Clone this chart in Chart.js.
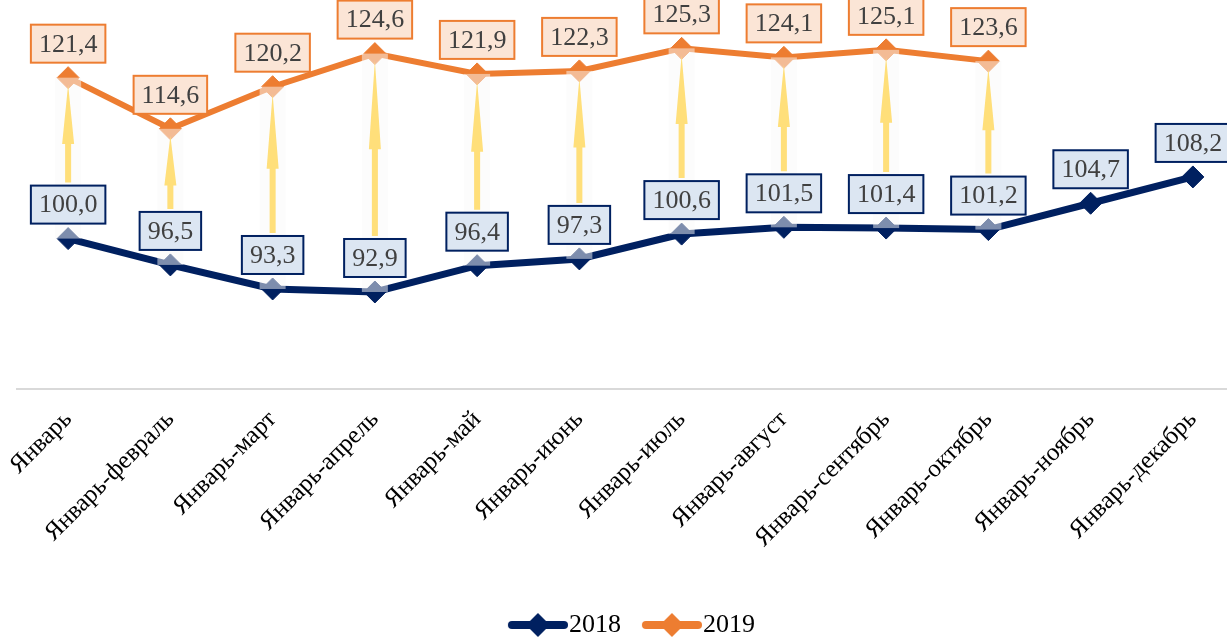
<!DOCTYPE html>
<html lang="ru">
<head>
<meta charset="utf-8">
<script src="https://cdn.jsdelivr.net/npm/chart.js@4"></script>
<style>
  html, body { margin: 0; padding: 0; background: #fff; overflow: hidden; }
  #wrap { width: 1256px; height: 637px; position: relative; }
</style>
</head>
<body>
<div id="wrap"><canvas id="myChart"></canvas></div>
<script>
// chart data
const months = ['Январь', 'Январь-февраль', 'Январь-март', 'Январь-апрель', 'Январь-май', 'Январь-июнь',
  'Январь-июль', 'Январь-август', 'Январь-сентябрь', 'Январь-октябрь', 'Январь-ноябрь', 'Январь-декабрь'];
const values2018 = [100.0, 96.5, 93.3, 92.9, 96.4, 97.3, 100.6, 101.5, 101.4, 101.2, 104.7, 108.2];
const values2019 = [121.4, 114.6, 120.2, 124.6, 121.9, 122.3, 125.3, 124.1, 125.1, 123.6, null, null];
const seriesNames = ['2018', '2019'];

const navy = '#002060';
const orange = '#ed7d31';
const serif = '"Liberation Serif", "Times New Roman", serif';

function fmt(v) {
  return v.toFixed(1).replace('.', ',');
}

// legend sample: line with a diamond, drawn in the right 60px of the image
function legendIcon(color) {
  const c = document.createElement('canvas');
  c.width = 72; c.height = 26;
  const g = c.getContext('2d');
  g.strokeStyle = color; g.lineWidth = 8; g.lineCap = 'round';
  g.beginPath(); g.moveTo(16, 13); g.lineTo(68, 13); g.stroke();
  g.fillStyle = color;
  g.beginPath(); g.moveTo(42, 1); g.lineTo(54, 13); g.lineTo(42, 25); g.lineTo(30, 13); g.closePath(); g.fill();
  return c;
}
const icons = [legendIcon(navy), legendIcon(orange)];

function labelBox(ctx, p, v, fill, stroke) {
  ctx.font = '26px ' + serif;
  const tw = ctx.measureText(fmt(v)).width;
  const w = tw + 16, h = 38;
  const x = p.x - w / 2, y = p.y - 15 - h;
  ctx.fillStyle = fill;
  ctx.fillRect(x, y, w, h);
  ctx.strokeStyle = stroke;
  ctx.lineWidth = 2;
  ctx.strokeRect(x, y, w, h);
  ctx.fillStyle = '#404040';
  ctx.textAlign = 'center';
  ctx.textBaseline = 'middle';
  ctx.fillText(fmt(v), p.x, y + h / 2 + 1);
}

const extras = {
  id: 'extras',
  afterDatasetsDraw(chart) {
    const ctx = chart.ctx;
    const pts18 = chart.getDatasetMeta(0).data;
    const pts19 = chart.getDatasetMeta(1).data;
    ctx.save();
    // up/down bars (very faint)
    ctx.fillStyle = 'rgba(250,250,250,0.5)';
    pts19.forEach((p, i) => {
      if (values2019[i] == null) return;
      ctx.fillRect(p.x - 13, p.y, 26, pts18[i].y - p.y);
    });
    // arrows from the 2018 label up to the 2019 point
    ctx.fillStyle = '#ffdf7a';
    pts19.forEach((p, i) => {
      if (values2019[i] == null) return;
      const y0 = pts18[i].y - 15 - 38 - 3, y1 = p.y + 7;
      const head = 22 + 0.38 * (y0 - y1);
      ctx.beginPath();
      ctx.moveTo(p.x, y1);
      ctx.lineTo(p.x + 6, y1 + head);
      ctx.lineTo(p.x + 3, y1 + head);
      ctx.lineTo(p.x + 3, y0);
      ctx.lineTo(p.x - 3, y0);
      ctx.lineTo(p.x - 3, y1 + head);
      ctx.lineTo(p.x - 6, y1 + head);
      ctx.closePath();
      ctx.fill();
    });
    pts18.forEach((p, i) => labelBox(ctx, p, values2018[i], '#dce6f2', navy));
    pts19.forEach((p, i) => {
      if (values2019[i] != null) labelBox(ctx, p, values2019[i], '#fbe5d6', orange);
    });
    ctx.restore();
  }
};

const data = {
  labels: months,
  datasets: [{
    label: seriesNames[0],
    data: values2018,
    borderColor: navy,
    backgroundColor: navy,
    borderWidth: 7,
    pointStyle: 'rectRot',
    pointRadius: 11,
    pointBackgroundColor: navy,
    pointBorderColor: navy,
    pointBorderWidth: 1,
    tension: 0,
  }, {
    label: seriesNames[1],
    data: values2019,
    borderColor: orange,
    backgroundColor: orange,
    borderWidth: 6,
    pointStyle: 'rectRot',
    pointRadius: 11,
    pointBackgroundColor: orange,
    pointBorderColor: orange,
    pointBorderWidth: 1,
    tension: 0,
  }],
};

const config = {
  type: 'line',
  data: data,
  plugins: [extras],
  options: {
    responsive: true,
    maintainAspectRatio: false,
    animation: false,
    layout: { padding: { left: 17, right: 5, top: 13, bottom: -11 } },
    scales: {
      y: { display: false, min: 80, max: 130 },
      x: {
        offset: true,
        grid: { color: 'transparent', drawTicks: false },
        border: { color: '#d9d9d9', width: 2 },
        afterFit(scale) {
          scale.paddingLeft = 0;
          scale.paddingRight = 0;
          scale.height = 202;
        },
        ticks: {
          autoSkip: false,
          minRotation: 45,
          maxRotation: 45,
          padding: 16,
          color: '#000',
          font: { family: serif, size: 25 },
        },
      },
    },
    plugins: {
      tooltip: { enabled: false },
      legend: {
        position: 'bottom',
        labels: {
          usePointStyle: true,
          pointStyleWidth: 48,
          padding: 21,
          color: '#000',
          font: { family: serif, size: 26 },
          generateLabels(chart) {
            const items = Chart.defaults.plugins.legend.labels.generateLabels(chart);
            items.forEach((it, i) => { it.pointStyle = icons[i]; });
            // thin trailing space nudges the centred row a little to the left
            items[items.length - 1].text += '\u2009';
            return items;
          },
        },
      },
    },
  },
};

const myChart = new Chart(document.getElementById('myChart'), config);
</script>
</body>
</html>
